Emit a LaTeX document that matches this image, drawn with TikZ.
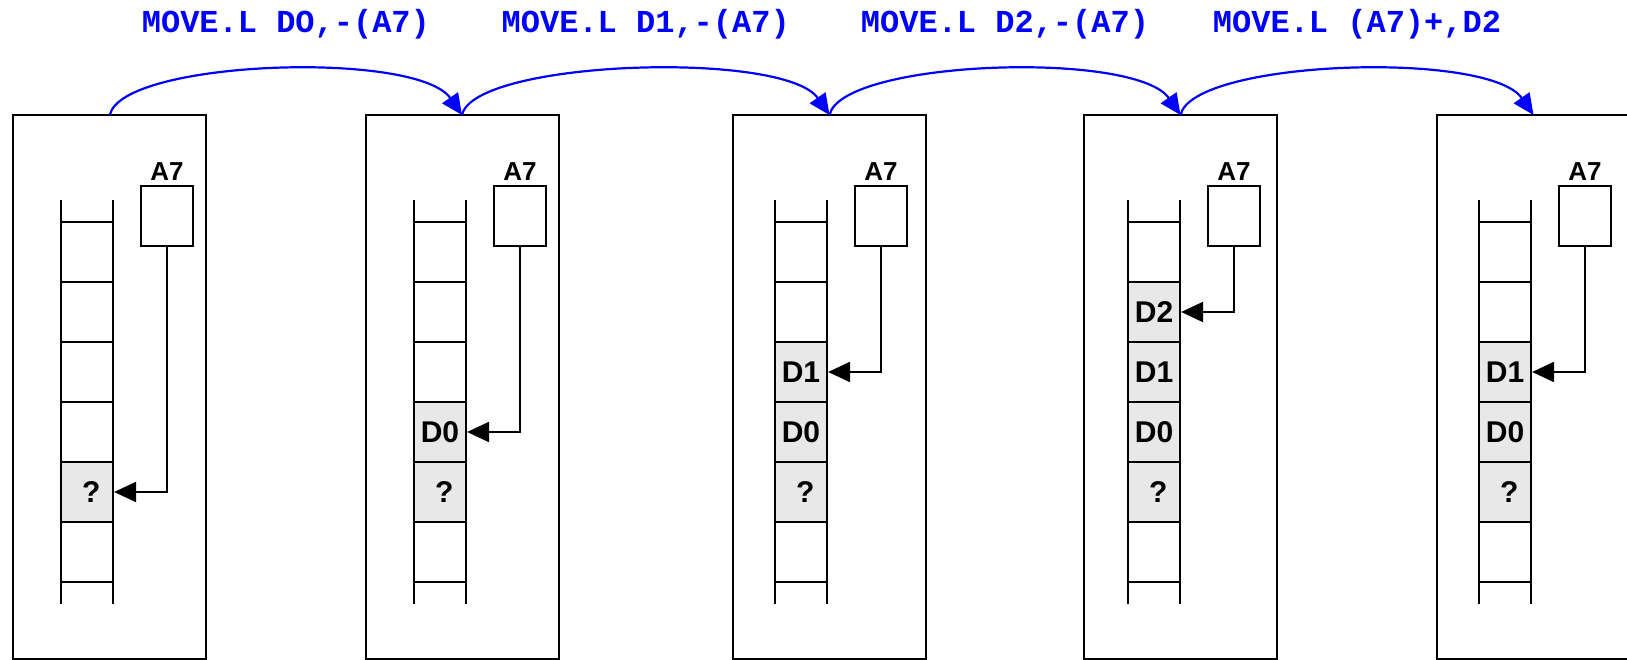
\documentclass[tikz,border=0pt]{standalone}
\usepackage{fontspec}
\setmainfont{Liberation Sans}
\setmonofont{Liberation Mono}
\usetikzlibrary{arrows.meta, calc}

\begin{document}
\begin{tikzpicture}[
    x=1pt, y=1pt,
    frame/.style={draw, line width=2pt, minimum width=193pt, minimum height=544pt,
        inner sep=0pt, outer sep=0pt},
    cell/.style={draw, line width=2.2pt, fill=black!9, minimum width=52pt,
        minimum height=60pt, inner sep=0pt, font=\fontsize{30}{32}\selectfont\bfseries},
    reg/.style={draw, line width=2.2pt, minimum width=52pt, minimum height=60pt, inner sep=0pt},
    regname/.style={font=\fontsize{26}{28}\selectfont\bfseries, inner sep=0pt, anchor=base},
    rail/.style={line width=2.2pt},
    rung/.style={line width=2.6pt},
    ptr/.style={line width=2.2pt, -{Triangle[length=22pt, width=20pt]}},
    jump/.style={blue, line width=2.2pt, -{Triangle[length=21pt, width=19pt]}},
    instr/.style={blue, font=\fontsize{32}{34}\selectfont\ttfamily\bfseries,
        inner sep=0pt, anchor=base}
]
\useasboundingbox (0,0) rectangle (1627,660);

% Frames, stack ladders and A7 registers
\foreach \p/\rx/\cx in {1/13.3/61, 2/365.5/414, 3/733/775, 4/1084/1128, 5/1437/1479} {
    \node[frame] (frame\p) at (\rx+96.5, 273) {};
    \draw[rail] (\cx,56) -- (\cx,460) (\cx+52,56) -- (\cx+52,460);
    \foreach \k in {0,...,6}
        \draw[rung] (\cx,438-60*\k) -- (\cx+52,438-60*\k);
    \node[reg] (sp\p) at (\cx+106,444) {};
    \node[regname] (spname\p) at ($(sp\p.north)+(0,4)$) {A7};
}

% Stack contents
\node[cell] (s1q)  at (87,168)   {\ ?};

\node[cell] (s2d0) at (440,228)  {D0};
\node[cell] (s2q)  at (440,168)  {\ ?};

\node[cell] (s3d1) at (801,288)  {D1};
\node[cell] (s3d0) at (801,228)  {D0};
\node[cell] (s3q)  at (801,168)  {\ ?};

\node[cell] (s4d2) at (1154,348) {D2};
\node[cell] (s4d1) at (1154,288) {D1};
\node[cell] (s4d0) at (1154,228) {D0};
\node[cell] (s4q)  at (1154,168) {\ ?};

\node[cell] (s5d1) at (1505,288) {D1};
\node[cell] (s5d0) at (1505,228) {D0};
\node[cell] (s5q)  at (1505,168) {\ ?};

% A7 points to the top of the stack
\draw[ptr] (sp1.south) |- (s1q.east);
\draw[ptr] (sp2.south) |- (s2d0.east);
\draw[ptr] (sp3.south) |- (s3d1.east);
\draw[ptr] (sp4.south) |- (s4d2.east);
\draw[ptr] (sp5.south) |- (s5d1.east);

% Instructions between the steps
\draw[jump] (frame1.north) .. controls +(12,55) and +(-45,65) .. (frame2.north);
\draw[jump] (frame2.north) .. controls +(12,55) and +(-45,65) .. (frame3.north);
\draw[jump] (frame3.north) .. controls +(12,55) and +(-45,65) .. (frame4.north);
\draw[jump] (frame4.north) .. controls +(12,55) and +(-45,65) .. (frame5.north);

\node[instr] (op1) at ($(frame1.north)!0.5!(frame2.north)+(0,82)$) {MOVE.L DO,-(A7)};
\node[instr] (op2) at ($(frame2.north)!0.5!(frame3.north)+(0,82)$) {MOVE.L D1,-(A7)};
\node[instr] (op3) at ($(frame3.north)!0.5!(frame4.north)+(0,82)$) {MOVE.L D2,-(A7)};
\node[instr] (op4) at ($(frame4.north)!0.5!(frame5.north)+(0,82)$) {MOVE.L (A7)+,D2};

\end{tikzpicture}
\end{document}
